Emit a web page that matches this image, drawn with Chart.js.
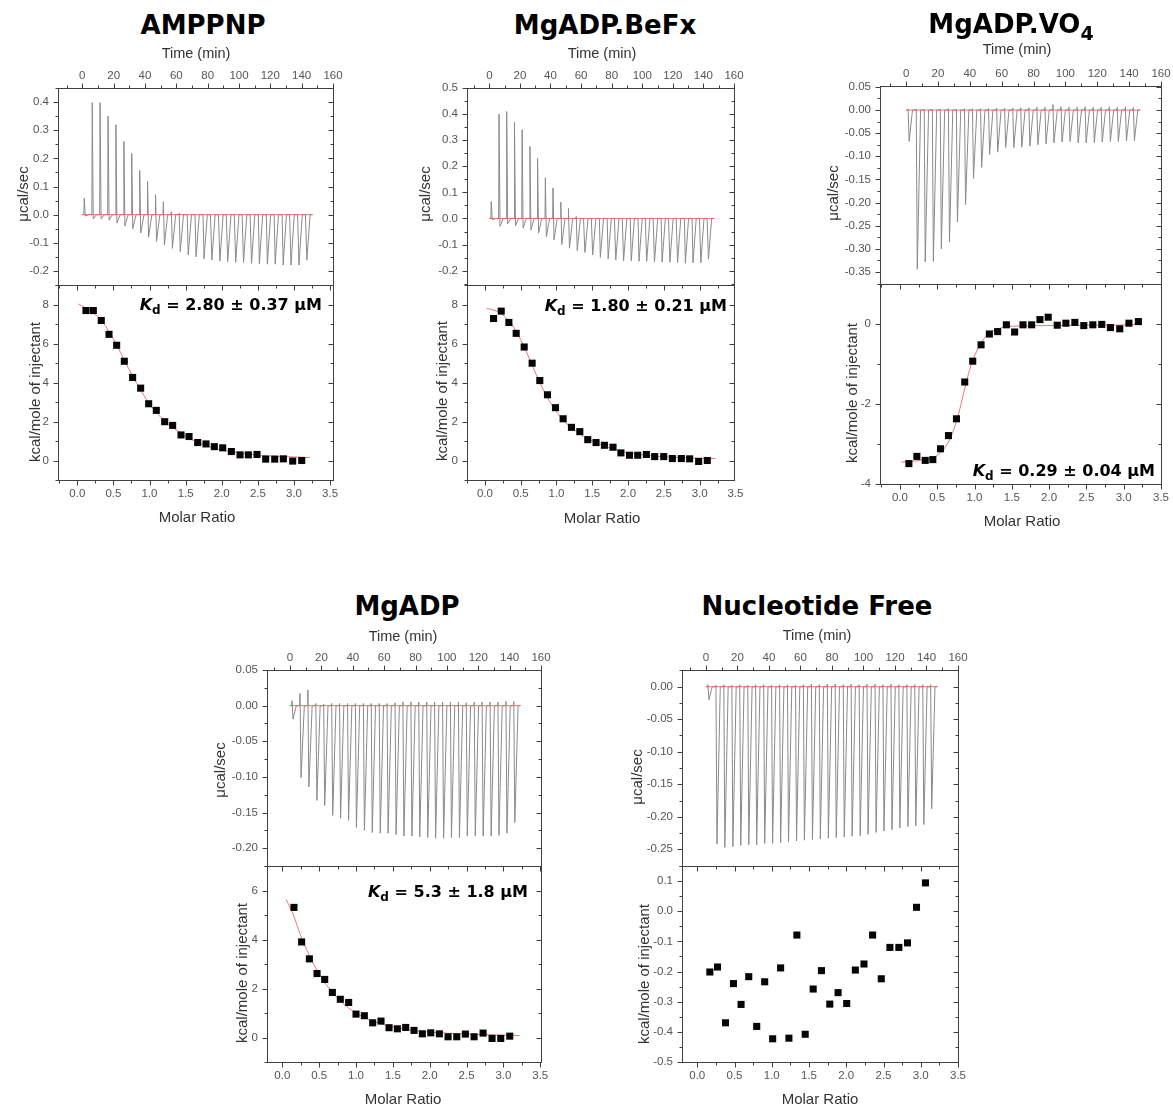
<!DOCTYPE html>
<html>
<head>
<meta charset="utf-8">
<title>ITC titrations</title>
<script src="https://cdn.jsdelivr.net/npm/chart.js@4.4.1/dist/chart.umd.min.js"></script>
<style>
  body { margin: 0; background: #fff; }
  #fig { position: relative; width: 1173px; height: 1105px; overflow: hidden; background: #fff;
         font-family: "Liberation Sans", Arial, sans-serif; }
  #fig canvas { position: absolute; }
  .txt { position: absolute; white-space: nowrap; line-height: 1; transform: translate(-50%, -50%); }
  .title { font: bold 26px "DejaVu Sans", sans-serif; color: #000; }
  .axt { font-size: 14.5px; color: #333; }
  .axt15 { font-size: 15px; color: #333; }
  .rot { transform: translate(-50%, -50%) rotate(-90deg); }
  .kd { position: absolute; white-space: nowrap; line-height: 1; transform: translate(-100%, -50%);
        font: bold 16px "DejaVu Sans", sans-serif; color: #000; }
  .kd i { font-style: italic; }
  .kd .sub { font-size: 12px; position: relative; top: 4px; }
</style>
</head>
<body>
<div id="fig"></div>
<script>
// injection schedule (min), shared by all five runs
const injectionTimes = [1.0, 6.1, 11.1, 16.2, 21.2, 26.3, 31.3, 36.4, 41.4, 46.5, 51.5, 56.6, 61.6, 66.7, 71.7,
  76.8, 81.8, 86.9, 91.9, 97.0, 102.0, 107.1, 112.1, 117.2, 122.2, 127.3, 132.3, 137.4, 142.4];
const baselineSpan = [0, 147];
const timeTicks = [0, 20, 40, 60, 80, 100, 120, 140, 160];
const ratioTicks = [0, 0.5, 1, 1.5, 2, 2.5, 3, 3.5];

// AMPPNP
const amppnpUp = [0.058, 0.398, 0.398, 0.35, 0.32, 0.26, 0.217, 0.157, 0.118, 0.071, 0.046, 0.01, 0.005,
  0, 0, 0, 0, 0, 0, 0, 0, 0, 0, 0, 0, 0, 0, 0, 0];
const amppnpDown = [-0.005, -0.015, -0.015, -0.02, -0.03, -0.04, -0.05, -0.065, -0.08, -0.095, -0.108, -0.12,
  -0.131, -0.143, -0.15, -0.157, -0.161, -0.165, -0.167, -0.169, -0.17, -0.173, -0.175, -0.176, -0.176,
  -0.179, -0.179, -0.179, -0.162];
const amppnpRatio = [0.12, 0.222, 0.332, 0.439, 0.545, 0.651, 0.766, 0.877, 0.988, 1.094, 1.21, 1.32, 1.436,
  1.547, 1.667, 1.782, 1.897, 2.013, 2.133, 2.253, 2.368, 2.488, 2.608, 2.733, 2.853, 2.982, 3.107];
const amppnpHeat = [7.69, 7.69, 7.18, 6.47, 5.91, 5.09, 4.26, 3.71, 2.91, 2.57, 1.99, 1.8, 1.31, 1.23, 0.92,
  0.85, 0.71, 0.65, 0.46, 0.29, 0.29, 0.31, 0.07, 0.07, 0.085, -0.03, 0.0];
const amppnpFitRatio = [0.014, 0.2, 0.33, 0.44, 0.55, 0.65, 0.77, 0.88, 0.99, 1.1, 1.2, 1.32, 1.44, 1.55,
  1.67, 1.78, 1.9, 2.0, 2.25, 2.5, 2.75, 3.0, 3.22];
const amppnpFitHeat = [8.03, 7.62, 7.2, 6.6, 5.9, 5.15, 4.3, 3.6, 2.95, 2.45, 2.05, 1.7, 1.38, 1.12, 0.93,
  0.77, 0.63, 0.53, 0.38, 0.28, 0.22, 0.18, 0.15];

// MgADP.BeFx
const befxUp = [0.065, 0.4, 0.41, 0.37, 0.34, 0.276, 0.23, 0.156, 0.117, 0.063, 0.038, 0.008,
  0, 0, 0, 0, 0, 0, 0, 0, 0, 0, 0, 0, 0, 0, 0, 0, 0];
const befxDown = [-0.005, -0.03, -0.02, -0.028, -0.037, -0.044, -0.056, -0.07, -0.082, -0.1, -0.114, -0.123,
  -0.13, -0.14, -0.149, -0.154, -0.159, -0.162, -0.162, -0.164, -0.164, -0.167, -0.167, -0.168, -0.169,
  -0.172, -0.17, -0.17, -0.156];
const befxRatio = [0.121, 0.228, 0.335, 0.437, 0.549, 0.66, 0.767, 0.874, 0.986, 1.093, 1.209, 1.326, 1.437,
  1.553, 1.67, 1.79, 1.9, 2.02, 2.135, 2.256, 2.372, 2.498, 2.619, 2.744, 2.86, 2.986, 3.107];
const befxHeat = [7.28, 7.66, 7.08, 6.52, 5.82, 4.99, 4.1, 3.37, 2.71, 2.14, 1.7, 1.48, 1.07, 0.92, 0.78,
  0.68, 0.39, 0.27, 0.27, 0.31, 0.2, 0.2, 0.1, 0.1, 0.085, -0.05, 0.0];
const befxFitRatio = [0.023, 0.2, 0.3, 0.4, 0.5, 0.6, 0.7, 0.8, 0.9, 1.0, 1.1, 1.2, 1.4, 1.6, 1.8, 2.0, 2.3,
  2.6, 3.0, 3.22];
const befxFitHeat = [7.8, 7.6, 7.3, 6.85, 6.2, 5.4, 4.55, 3.75, 3.05, 2.5, 2.05, 1.7, 1.2, 0.85, 0.58, 0.4,
  0.25, 0.17, 0.12, 0.1];

// MgADP.VO4
const vo4Up = [0.002, 0.002, 0.002, 0.002, 0.002, 0.003, 0.002, 0.003, 0.003, 0.003, 0.003, 0.004, 0.004,
  0.004, 0.005, 0.005, 0.006, 0.006, 0.012, 0.007, 0.006, 0.006, 0.007, 0.006, 0.006, 0.007, 0.006, 0.007, 0.006];
const vo4Down = [-0.068, -0.344, -0.328, -0.327, -0.3, -0.285, -0.242, -0.204, -0.148, -0.124, -0.096, -0.091,
  -0.081, -0.081, -0.08, -0.078, -0.075, -0.073, -0.071, -0.069, -0.068, -0.071, -0.071, -0.07, -0.069,
  -0.068, -0.068, -0.067, -0.066];
const vo4Ratio = [0.12, 0.227, 0.339, 0.441, 0.544, 0.651, 0.758, 0.869, 0.976, 1.088, 1.199, 1.31, 1.427,
  1.538, 1.65, 1.766, 1.877, 1.988, 2.109, 2.225, 2.345, 2.465, 2.586, 2.706, 2.822, 2.947, 3.07, 3.197];
const vo4Heat = [-3.49, -3.31, -3.41, -3.39, -3.12, -2.79, -2.37, -1.45, -0.93, -0.52, -0.25, -0.19, -0.02,
  -0.2, -0.02, -0.02, 0.11, 0.17, -0.03, 0.02, 0.04, -0.04, -0.02, -0.01, -0.09, -0.12, 0.02, 0.06];
const vo4FitRatio = [0.02, 0.3, 0.49, 0.6, 0.7, 0.8, 0.87, 0.95, 1.05, 1.15, 1.25, 1.4, 1.6, 2.0, 2.5, 2.9, 3.22];
const vo4FitHeat = [-3.45, -3.4, -3.3, -3.1, -2.75, -2.15, -1.6, -1.05, -0.6, -0.32, -0.17, -0.08, -0.05,
  -0.04, -0.03, -0.03, 0.0];

// MgADP
const mgadpUp = [0.007, 0.017, 0.022, 0.003, 0.002, 0.003, 0.003, 0.003, 0.003, 0.003, 0.003, 0.003, 0.003,
  0.004, 0.005, 0.005, 0.005, 0.005, 0.005, 0.005, 0.005, 0.005, 0.004, 0.005, 0.005, 0.005, 0.005, 0.006, 0.006];
const mgadpDown = [-0.019, -0.101, -0.114, -0.133, -0.14, -0.154, -0.158, -0.161, -0.171, -0.175, -0.178,
  -0.179, -0.179, -0.181, -0.183, -0.183, -0.184, -0.185, -0.186, -0.186, -0.185, -0.185, -0.183, -0.183,
  -0.183, -0.183, -0.182, -0.179, -0.164];
const mgadpRatio = [0.158, 0.262, 0.367, 0.471, 0.575, 0.679, 0.787, 0.9, 1.0, 1.113, 1.226, 1.339, 1.448,
  1.561, 1.674, 1.787, 1.9, 2.014, 2.131, 2.249, 2.367, 2.484, 2.602, 2.724, 2.846, 2.964, 3.086];
const mgadpHeat = [5.31, 3.9, 3.21, 2.61, 2.37, 1.84, 1.56, 1.43, 0.955, 0.89, 0.6, 0.67, 0.4, 0.355, 0.41,
  0.29, 0.15, 0.19, 0.15, 0.03, 0.03, 0.14, 0.03, 0.18, -0.04, -0.04, 0.055];
const mgadpFitRatio = [0.05, 0.15, 0.25, 0.35, 0.45, 0.6, 0.8, 1.0, 1.2, 1.4, 1.7, 2.0, 2.5, 3.0, 3.22];
const mgadpFitHeat = [5.65, 5.0, 4.15, 3.45, 2.85, 2.15, 1.45, 1.0, 0.7, 0.5, 0.32, 0.22, 0.14, 0.1, 0.08];

// Nucleotide free (no fit)
const freeUp = [0.003, 0.002, 0.003, 0.002, 0.003, 0.002, 0.003, 0.003, 0.002, 0.003, 0.003, 0.002, 0.003,
  0.004, 0.003, 0.004, 0.004, 0.003, 0.004, 0.003, 0.004, 0.004, 0.003, 0.004, 0.003, 0.003, 0.003, 0.003, 0.003];
const freeDown = [-0.02, -0.242, -0.247, -0.246, -0.244, -0.243, -0.243, -0.241, -0.241, -0.24, -0.239,
  -0.237, -0.236, -0.235, -0.234, -0.233, -0.232, -0.231, -0.23, -0.229, -0.227, -0.224, -0.222, -0.22,
  -0.217, -0.215, -0.214, -0.212, -0.188];
const freeRatio = [0.169, 0.272, 0.379, 0.486, 0.588, 0.691, 0.798, 0.905, 1.012, 1.119, 1.23, 1.337, 1.449,
  1.556, 1.667, 1.779, 1.89, 2.006, 2.122, 2.238, 2.354, 2.47, 2.586, 2.706, 2.822, 2.943, 3.063];
const freeHeat = [-0.2015, -0.185, -0.37, -0.24, -0.309, -0.217, -0.382, -0.234, -0.423, -0.188, -0.421,
  -0.079, -0.408, -0.258, -0.197, -0.308, -0.27, -0.306, -0.195, -0.175, -0.079, -0.224, -0.12, -0.12,
  -0.105, 0.013, 0.094];

// layout of each panel: frame edges in page px (L, R, T = top of raw trace, M = split, B = bottom)
const panels = [
  { title: 'AMPPNP', L: 58, R: 333, T: 88, M: 285, B: 480,
    time: [-15.5, 160], topY: [-0.25, 0.45], topTicks: [-0.2, -0.1, 0, 0.1, 0.2, 0.3, 0.4], topDec: 1,
    ratio: [-0.267, 3.54], botY: [-1, 9], botTicks: [0, 2, 4, 6, 8], botDec: 0,
    up: amppnpUp, down: amppnpDown, x: amppnpRatio, y: amppnpHeat, fx: amppnpFitRatio, fy: amppnpFitHeat,
    kd: '2.80 ± 0.37 μM', kdAt: [322, 304],
    titleAt: [203, 25], timeAt: [196, 53], ucalAt: [22, 194], kcalAt: [34, 392], molarAt: [197, 516] },
  { title: 'MgADP.BeFx', L: 467, R: 734, T: 88, M: 285, B: 480,
    time: [-14.6, 160], topY: [-0.255, 0.5], topTicks: [-0.2, -0.1, 0, 0.1, 0.2, 0.3, 0.4, 0.5], topDec: 1,
    ratio: [-0.25, 3.48], botY: [-1, 9], botTicks: [0, 2, 4, 6, 8], botDec: 0,
    up: befxUp, down: befxDown, x: befxRatio, y: befxHeat, fx: befxFitRatio, fy: befxFitHeat,
    kd: '1.80 ± 0.21 μM', kdAt: [727, 305],
    titleAt: [605, 25], timeAt: [602, 53], ucalAt: [424, 194], kcalAt: [441, 391], molarAt: [602, 517] },
  { title: 'MgADP.VO<span style="font-size:19px;position:relative;top:7px">4</span>',
    L: 880, R: 1161, T: 86, M: 284, B: 484,
    time: [-16.4, 160], topY: [-0.376, 0.052],
    topTicks: [-0.35, -0.3, -0.25, -0.2, -0.15, -0.1, -0.05, 0, 0.05], topDec: 2,
    ratio: [-0.267, 3.5], botY: [-4, 1], botTicks: [-4, -2, 0], botDec: 0,
    up: vo4Up, down: vo4Down, x: vo4Ratio, y: vo4Heat, fx: vo4FitRatio, fy: vo4FitHeat,
    kd: '0.29 ± 0.04 μM', kdAt: [1155, 470],
    titleAt: [1011, 24], timeAt: [1017, 49], ucalAt: [832, 193], kcalAt: [851, 393], molarAt: [1022, 520] },
  { title: 'MgADP', L: 267, R: 541, T: 670, M: 866, B: 1062,
    time: [-14.7, 160], topY: [-0.225, 0.05], topTicks: [-0.2, -0.15, -0.1, -0.05, 0, 0.05], topDec: 2,
    ratio: [-0.208, 3.51], botY: [-1, 7], botTicks: [0, 2, 4, 6], botDec: 0,
    up: mgadpUp, down: mgadpDown, x: mgadpRatio, y: mgadpHeat, fx: mgadpFitRatio, fy: mgadpFitHeat,
    kd: '5.3 ± 1.8 μM', kdAt: [528, 891],
    titleAt: [407, 606], timeAt: [403, 636], ucalAt: [219, 770], kcalAt: [241, 973], molarAt: [403, 1098] },
  { title: 'Nucleotide Free', L: 682, R: 958, T: 670, M: 866, B: 1062,
    time: [-15.2, 160], topY: [-0.2757, 0.0257], topTicks: [-0.25, -0.2, -0.15, -0.1, -0.05, 0], topDec: 2,
    ratio: [-0.205, 3.5], botY: [-0.5, 0.15], botTicks: [-0.5, -0.4, -0.3, -0.2, -0.1, 0, 0.1], botDec: 1,
    up: freeUp, down: freeDown, x: freeRatio, y: freeHeat, fx: null, fy: null,
    kd: null, kdAt: null,
    titleAt: [817, 606], timeAt: [817, 635], ucalAt: [636, 777], kcalAt: [643, 974], molarAt: [820, 1098] }
];

const PAD = 18, YW = 70, XH = 30;
const fig = document.getElementById('fig');
const traceColor = '#8a8a8a';
const fitColor = 'rgba(235, 95, 95, 0.85)';
Chart.defaults.font.family = '"Liberation Sans", Arial, sans-serif';

// frame with major/minor ticks on all four sides
const frameTicks = {
  id: 'frameTicks',
  afterDraw(chart, args, opts) {
    const { ctx, chartArea: a, scales } = chart;
    const l = Math.round(a.left), t = Math.round(a.top);
    const r = Math.round(a.right), b = Math.round(a.bottom);
    ctx.save();
    ctx.strokeStyle = '#404040';
    ctx.lineWidth = 1;
    ctx.strokeRect(l + 0.5, t + 0.5, r - l, b - t);
    ctx.beginPath();
    withMinor(scales.x).forEach(([v, major]) => {
      const px = Math.round(scales.x.getPixelForValue(v)) + 0.5;
      const len = major ? 5 : 3;
      if (opts.side === 'top') {
        ctx.moveTo(px, t + 0.5); ctx.lineTo(px, t + 0.5 - len);
      } else {
        ctx.moveTo(px, b + 0.5); ctx.lineTo(px, b + 0.5 + len);
        ctx.moveTo(px, t + 0.5); ctx.lineTo(px, t + 0.5 + len);
      }
    });
    withMinor(scales.y).forEach(([v, major]) => {
      const py = Math.round(scales.y.getPixelForValue(v)) + 0.5;
      const len = major ? 5 : 3;
      ctx.moveTo(l + 0.5, py); ctx.lineTo(l + 0.5 - len, py);
      ctx.moveTo(r + 0.5, py); ctx.lineTo(r + 0.5 - len, py);
    });
    ctx.stroke();
    ctx.restore();
  }
};

function withMinor(scale) {
  const majors = scale.ticks.map(tk => tk.value);
  const step = majors[1] - majors[0];
  const eps = step * 1e-6;
  const minors = [majors[0] - step / 2].concat(majors.map(v => v + step / 2));
  return majors.map(v => [v, true])
    .concat(minors.map(v => [v, false]))
    .filter(([v]) => v >= scale.min - eps && v <= scale.max + eps);
}

function fmt(dec) {
  return v => (Math.abs(v) < 1e-9 ? 0 : v).toFixed(dec);
}

function axis(position, range, ticks, dec) {
  const isX = position === 'top' || position === 'bottom';
  return {
    type: 'linear', position, min: range[0], max: range[1],
    grid: { display: false, drawTicks: false },
    border: { display: false },
    ticks: {
      color: '#555', font: { size: 11.5 }, autoSkip: false, maxRotation: 0,
      padding: position === 'top' ? 5 : position === 'bottom' ? 7 : 9,
      callback: fmt(dec)
    },
    afterBuildTicks: s => { s.ticks = ticks.map(v => ({ value: v })); },
    afterFit: s => { if (isX) s.height = XH; else s.width = YW; }
  };
}

function makeChart(left, top, w, h, config) {
  const c = document.createElement('canvas');
  c.width = w; c.height = h;
  c.style.left = left + 'px'; c.style.top = top + 'px';
  c.style.width = w + 'px'; c.style.height = h + 'px';
  fig.appendChild(c);
  return new Chart(c.getContext('2d'), config);
}

function addText(html, at, cls) {
  const d = document.createElement('div');
  d.className = cls;
  d.innerHTML = html;
  d.style.left = at[0] + 'px';
  d.style.top = at[1] + 'px';
  fig.appendChild(d);
}

// raw thermogram: each injection rises to its up value, dips to its down value, back to baseline
function tracePoints(up, down) {
  const pts = [{ x: baselineSpan[0], y: 0 }];
  injectionTimes.forEach((t, i) => {
    pts.push({ x: t, y: 0 }, { x: t + 0.25, y: up[i] }, { x: t + 0.9, y: down[i] }, { x: t + 3, y: 0 });
  });
  pts.push({ x: baselineSpan[1], y: 0 });
  return pts;
}

function zip(xs, ys) {
  return xs.map((x, i) => ({ x, y: ys[i] }));
}

const common = {
  responsive: false, animation: false, events: [],
  layout: { padding: { left: 0, top: PAD, right: PAD, bottom: PAD } }
};

panels.forEach(p => {
  const w = YW + (p.R - p.L) + PAD;

  makeChart(p.L - YW, p.T - XH - PAD, w, PAD + XH + (p.M - p.T) + PAD, {
    type: 'scatter',
    data: {
      datasets: [
        { data: baselineSpan.map(x => ({ x, y: 0 })), showLine: true, borderColor: fitColor,
          borderWidth: 1, pointRadius: 0 },
        { data: tracePoints(p.up, p.down), showLine: true, borderColor: traceColor, borderWidth: 1,
          borderJoinStyle: 'round', pointRadius: 0 }
      ]
    },
    options: Object.assign({}, common, {
      plugins: { legend: { display: false }, tooltip: { enabled: false }, frameTicks: { side: 'top' } },
      scales: { x: axis('top', p.time, timeTicks, 0), y: axis('left', p.topY, p.topTicks, p.topDec) }
    }),
    plugins: [frameTicks]
  });

  const sets = [
    { data: zip(p.x, p.y), pointStyle: 'rect', pointRadius: 5, backgroundColor: '#050505', borderWidth: 0 }
  ];
  if (p.fx) {
    sets.push({ data: zip(p.fx, p.fy), showLine: true, borderColor: fitColor, borderWidth: 1,
      pointRadius: 0, cubicInterpolationMode: 'monotone' });
  }
  makeChart(p.L - YW, p.M - PAD, w, PAD + (p.B - p.M) + XH + PAD, {
    type: 'scatter',
    data: { datasets: sets },
    options: Object.assign({}, common, {
      plugins: { legend: { display: false }, tooltip: { enabled: false }, frameTicks: { side: 'bottom' } },
      scales: { x: axis('bottom', p.ratio, ratioTicks, 1), y: axis('left', p.botY, p.botTicks, p.botDec) }
    }),
    plugins: [frameTicks]
  });

  addText(p.title, p.titleAt, 'txt title');
  addText('Time (min)', p.timeAt, 'txt axt');
  addText('μcal/sec', p.ucalAt, 'txt axt15 rot');
  addText('kcal/mole of injectant', p.kcalAt, 'txt axt15 rot');
  addText('Molar Ratio', p.molarAt, 'txt axt15');
  if (p.kd) addText('<i>K</i><span class="sub">d</span> = ' + p.kd, p.kdAt, 'kd');
});
</script>
</body>
</html>
